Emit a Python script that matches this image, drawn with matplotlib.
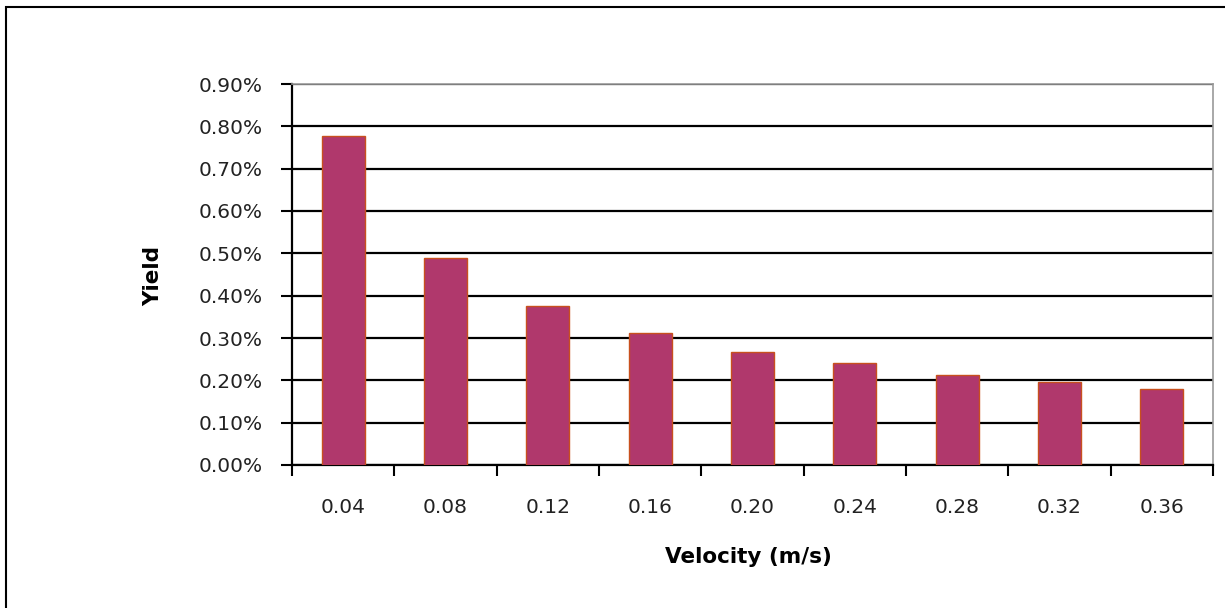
import matplotlib.pyplot as plt
import numpy as np
from matplotlib.patches import Rectangle
from matplotlib.ticker import FixedLocator

plt.rcParams['font.family'] = ['DejaVu Sans']

# yield per velocity (percent)
velocity = ['0.04', '0.08', '0.12', '0.16', '0.20', '0.24', '0.28', '0.32', '0.36']
yield_pct = [0.777, 0.490, 0.376, 0.311, 0.267, 0.240, 0.212, 0.197, 0.180]
y_ticks = [0.0, 0.1, 0.2, 0.3, 0.4, 0.5, 0.6, 0.7, 0.8, 0.9]

fig = plt.figure(figsize=(12.25, 6.08), dpi=100)
ax = fig.add_axes([292 / 1225, 143 / 608, 921 / 1225, 381 / 608])

# outer chart frame (only left and top edges fall inside the image)
fig.patches.append(Rectangle((6 / 1225, -0.05), 1.2, 1.05 - 7 / 608,
                             transform=fig.transFigure, fill=False,
                             edgecolor='black', linewidth=1.5))

x = np.arange(len(velocity))
ax.bar(x, yield_pct, width=0.42, color='#B0386C', edgecolor='#C8501E',
       linewidth=1.0, zorder=3)

ax.set_xlim(-0.5, len(velocity) - 0.5)
ax.set_ylim(0, 0.9)

# gridlines
ax.set_yticks(y_ticks)
ax.set_yticklabels([f'{v:.2f}%' for v in y_ticks])
ax.yaxis.grid(True, color='black', linewidth=1.6, zorder=1)
ax.set_axisbelow(True)

# category boundaries get tick marks, centres get the labels
ax.xaxis.set_major_locator(FixedLocator(np.arange(len(velocity) + 1) - 0.5))
ax.xaxis.set_major_formatter(plt.NullFormatter())
ax.xaxis.set_minor_locator(FixedLocator(x))
ax.set_xticklabels(velocity, minor=True)
ax.tick_params(axis='x', which='major', length=8, width=1.5, color='black',
               direction='out')
ax.tick_params(axis='x', which='minor', length=0, pad=24, labelsize=14.5,
               labelcolor='#222222')
ax.tick_params(axis='y', length=8, width=1.5, direction='out', pad=13,
               labelsize=14.5, labelcolor='#222222')

for side in ['top', 'right']:
    ax.spines[side].set_color('#999999')
    ax.spines[side].set_linewidth(1.2)
for side in ['left', 'bottom']:
    ax.spines[side].set_color('black')
    ax.spines[side].set_linewidth(1.6)

ax.set_xlabel('Velocity (m/s)', fontsize=15.5, fontweight='bold')
ax.set_ylabel('Yield', fontsize=15.5, fontweight='bold')
ax.xaxis.set_label_coords((748 - 292) / 921, (465 - 557) / 381)
ax.yaxis.set_label_coords((153 - 292) / 921, (465 - 276) / 381)
ax.xaxis.label.set_va('center')
ax.yaxis.label.set_va('center')

fig.savefig('out.png', dpi=100)
